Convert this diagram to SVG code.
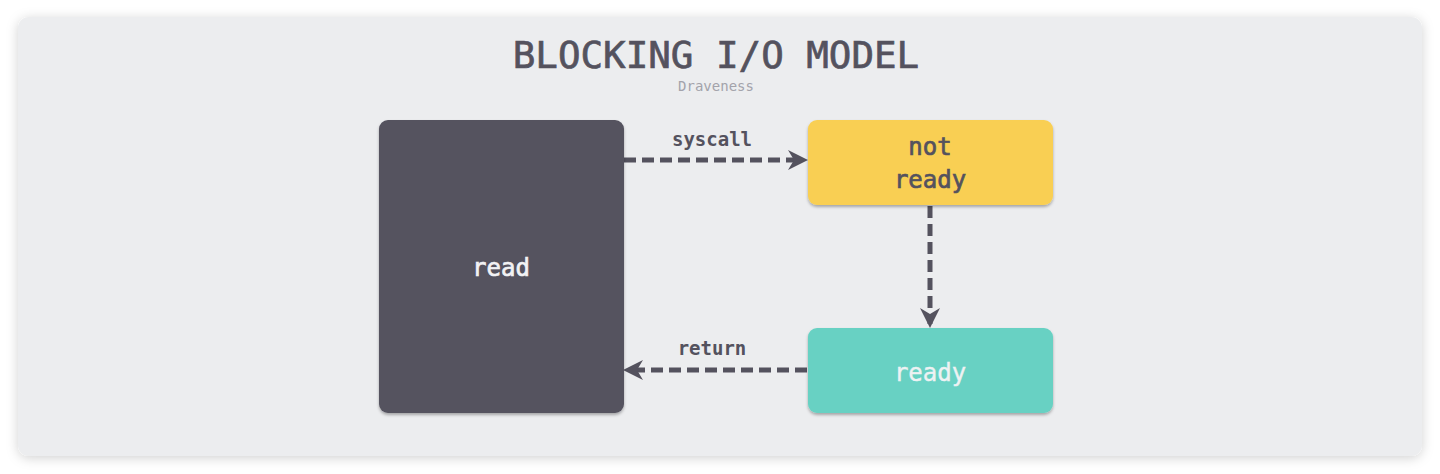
<svg xmlns="http://www.w3.org/2000/svg" width="1440" height="474" viewBox="0 0 1440 474">
<defs>
<filter id="panelShadow" x="-5%" y="-10%" width="110%" height="125%">
<feDropShadow dx="0" dy="2" stdDeviation="6" flood-color="#000" flood-opacity="0.18"/>
</filter>
<filter id="nodeShadow" x="-10%" y="-10%" width="120%" height="130%">
<feDropShadow dx="0" dy="2" stdDeviation="1.5" flood-color="#000" flood-opacity="0.3"/>
</filter>
<marker id="arrow" viewBox="0 0 10 10" refX="8" refY="5" markerWidth="4" markerHeight="4" markerUnits="strokeWidth" orient="auto">
<path d="M0,0 L10,5 L0,10 L3,5 Z" fill="#54525e"/>
</marker>
<style>
.title{font-family:"DejaVu Sans Mono","Liberation Mono",monospace;font-size:37.5px;fill:#54525e;stroke:#54525e;stroke-width:0.7px;text-anchor:middle;}
.sub{font-family:"DejaVu Sans Mono","Liberation Mono",monospace;font-size:14px;fill:#a3a3ab;text-anchor:middle;}
.lbl{font-family:"DejaVu Sans Mono","Liberation Mono",monospace;font-size:19px;font-weight:bold;fill:#54525e;text-anchor:middle;}
.ntext{font-family:"DejaVu Sans Mono","Liberation Mono",monospace;font-size:24px;text-anchor:middle;stroke-width:0.7px;}
.edge{stroke:#54525e;stroke-width:5;stroke-dasharray:12 6;fill:none;marker-end:url(#arrow);}
</style>
</defs>
<rect x="18" y="17" width="1404" height="439" rx="11" fill="#ecedef" filter="url(#panelShadow)"/>
<text class="title" x="716" y="68">BLOCKING I/O MODEL</text>
<text class="sub" x="716" y="91">Draveness</text>
<g id="connectors">
<path class="edge" d="M624,160 L804,160"/>
<path class="edge" d="M930,206 L930,324"/>
<path class="edge" d="M807,370 L627,370"/>
<text class="lbl" x="712" y="146">syscall</text>
<text class="lbl" x="712" y="355">return</text>
</g>
<g id="read">
<rect x="379" y="120" width="245" height="293" rx="9" fill="#54525e" filter="url(#nodeShadow)"/>
<text class="ntext" x="501" y="276" fill="#f2f2f4" stroke="#f2f2f4">read</text>
</g>
<g id="not-ready">
<rect x="808" y="120" width="245" height="85" rx="9" fill="#f9cf53" filter="url(#nodeShadow)"/>
<text class="ntext" x="930" y="155" fill="#54525e" stroke="#54525e">not</text>
<text class="ntext" x="930" y="188" fill="#54525e" stroke="#54525e">ready</text>
</g>
<g id="ready">
<rect x="808" y="328" width="245" height="85" rx="9" fill="#68d1c3" filter="url(#nodeShadow)"/>
<text class="ntext" x="930" y="381" fill="#eef2f3" stroke="#eef2f3" style="stroke-width:0.4px">ready</text>
</g>
</svg>
